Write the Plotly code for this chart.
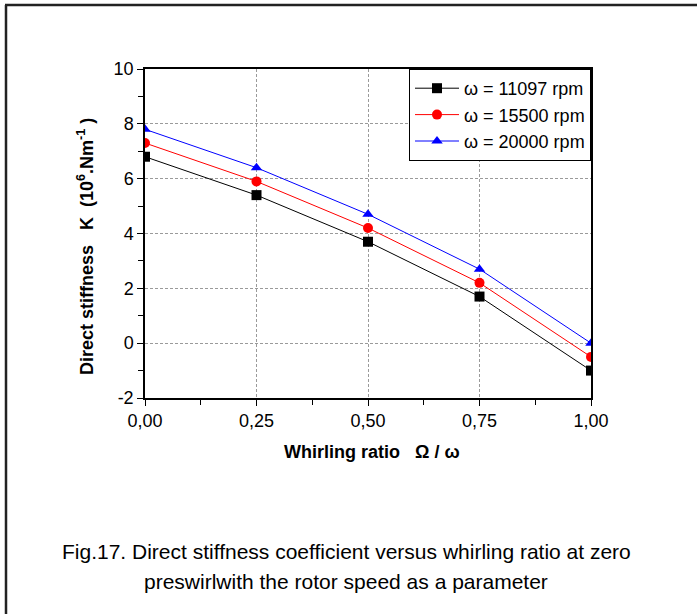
import plotly.graph_objects as go

whirl_ratio = [0.0, 0.25, 0.5, 0.75, 1.0]
k_11097 = [6.8, 5.4, 3.7, 1.7, -1.0]
k_15500 = [7.3, 5.9, 4.2, 2.2, -0.5]
k_20000 = [7.8, 6.4, 4.7, 2.7, 0.0]

x_tickvals = [0.0, 0.25, 0.5, 0.75, 1.0]
x_ticktext = ["0,00", "0,25", "0,50", "0,75", "1,00"]
y_tickvals = [-2, 0, 2, 4, 6, 8, 10]
y_ticktext = ["-2", "0", "2", "4", "6", "8", "10"]

series = [
    ("ω = 11097 rpm", k_11097, "black", "square"),
    ("ω = 15500 rpm", k_15500, "red", "circle"),
    ("ω = 20000 rpm", k_20000, "blue", "triangle-up"),
]

fig = go.Figure()
for name, vals, col, sym in series:
    fig.add_trace(go.Scatter(
        x=whirl_ratio, y=vals, name=name, mode="lines+markers",
        line=dict(color=col, width=1),
        marker=dict(symbol=sym, size=10, color=col),
    ))

FONT = "Liberation Sans, Arial, sans-serif"
axis_common = dict(
    showline=True, linecolor="black", linewidth=1.5, mirror=True,
    ticks="outside", ticklen=6, tickwidth=1, tickcolor="black",
    showgrid=True, gridcolor="#9a9a9a", griddash="3px,2px", gridwidth=1,
    zeroline=False, tickfont=dict(family=FONT, size=18, color="black"),
)

fig.update_xaxes(range=[0, 1], tickvals=x_tickvals, ticktext=x_ticktext,
                 minor=dict(dtick=0.125, ticks="outside", ticklen=5, tickcolor="black", showgrid=False),
                 **axis_common)
fig.update_yaxes(range=[-2, 10], tickvals=y_tickvals, ticktext=y_ticktext,
                 minor=dict(dtick=1, ticks="outside", ticklen=5, tickcolor="black", showgrid=False),
                 **axis_common)

L, R, T, B = 145, 106, 69, 216
W, H = 697, 614
pw, ph = W - L - R, H - T - B

def px_x(p):
    return (p - L) / pw

def px_y(p):
    return (H - B - p) / ph

fig.update_layout(
    width=W, height=H,
    margin=dict(l=L, r=R, t=T, b=B),
    paper_bgcolor="white", plot_bgcolor="white",
    font=dict(family=FONT, color="black"),
    showlegend=True,
    legend=dict(x=1, y=1, xanchor="right", yanchor="top",
                bordercolor="black", borderwidth=1, bgcolor="white",
                font=dict(family=FONT, size=18, color="black"),
                itemwidth=44, tracegroupgap=0),
    annotations=[
        dict(text="<b>Direct stiffness   K  (10<sup>6</sup>.Nm<sup>-1</sup> )</b>",
             xref="paper", yref="paper", x=px_x(85), y=px_y(247),
             xanchor="center", yanchor="middle",
             textangle=-90, showarrow=False, font=dict(family=FONT, size=18)),
        dict(text="<b>Whirling ratio   Ω / ω</b>",
             xref="paper", yref="paper", x=px_x(372), y=px_y(452),
             xanchor="center", yanchor="middle",
             showarrow=False, font=dict(family=FONT, size=18)),
        dict(text="Fig.17. Direct stiffness coefficient versus whirling ratio at zero",
             xref="paper", yref="paper", x=px_x(346), y=px_y(551),
             xanchor="center", yanchor="middle",
             showarrow=False, font=dict(family=FONT, size=21)),
        dict(text="preswirlwith the rotor speed as a parameter",
             xref="paper", yref="paper", x=px_x(346), y=px_y(581),
             xanchor="center", yanchor="middle",
             showarrow=False, font=dict(family=FONT, size=21)),
    ],
    shapes=[
        dict(type="line", xref="paper", yref="paper",
             x0=px_x(6), x1=px_x(6), y0=px_y(5), y1=px_y(620),
             line=dict(color="#222", width=2.5)),
        dict(type="line", xref="paper", yref="paper",
             x0=px_x(5), x1=px_x(700), y0=px_y(5), y1=px_y(5),
             line=dict(color="#222", width=2.5)),
    ],
)

fig.write_html("out.html")
